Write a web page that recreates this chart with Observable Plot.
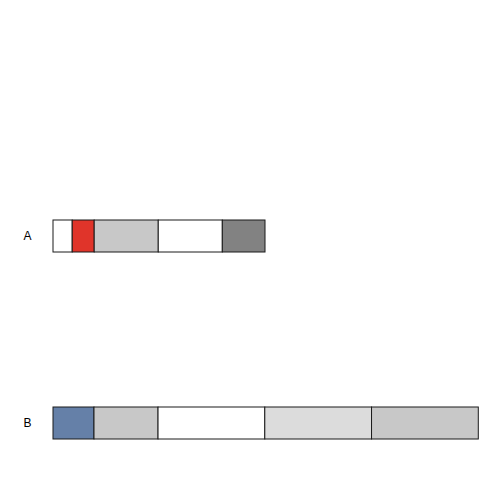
<!DOCTYPE html>
<html>
<head>
<meta charset="utf-8">
<script src="https://cdn.jsdelivr.net/npm/d3@7"></script>
<script src="https://cdn.jsdelivr.net/npm/@observablehq/plot@0.6"></script>
<style>
  html, body { margin: 0; padding: 0; background: #fff; }
</style>
</head>
<body>
<div id="chart"></div>
<script>
const rows = ["A", "A", "A", "A", "A", "B", "B", "B", "B", "B"];
const values = [0.9, 1.03, 3.0, 3.0, 2.0, 1.92, 3.0, 5.0, 5.0, 5.0];
const colors = ["#ffffff", "#e0342a", "#c8c8c8", "#ffffff", "#828282",
                "#6580a8", "#c8c8c8", "#ffffff", "#dcdcdc", "#c8c8c8"];
const rowOrder = ["A", "B"];

const data = rows.map((r, i) => ({row: r, value: values[i], color: colors[i]}));

const chart = Plot.plot({
  width: 504,
  height: 504,
  marginLeft: 53,
  marginRight: 24,
  marginTop: 201,
  marginBottom: 46,
  style: {fontFamily: "Liberation Sans, Arial, sans-serif", fontSize: "12px", background: "#fff"},
  x: {domain: [0, 20], axis: null},
  y: {domain: rowOrder, paddingInner: 0.829, paddingOuter: 0.1, tickSize: 0, tickPadding: 22, label: null},
  marks: [
    Plot.barX(data, Plot.stackX({x: "value", y: "row", fill: "color", stroke: "#1a1a1a", strokeWidth: 1}))
  ]
});
document.getElementById("chart").appendChild(chart);
</script>
</body>
</html>
